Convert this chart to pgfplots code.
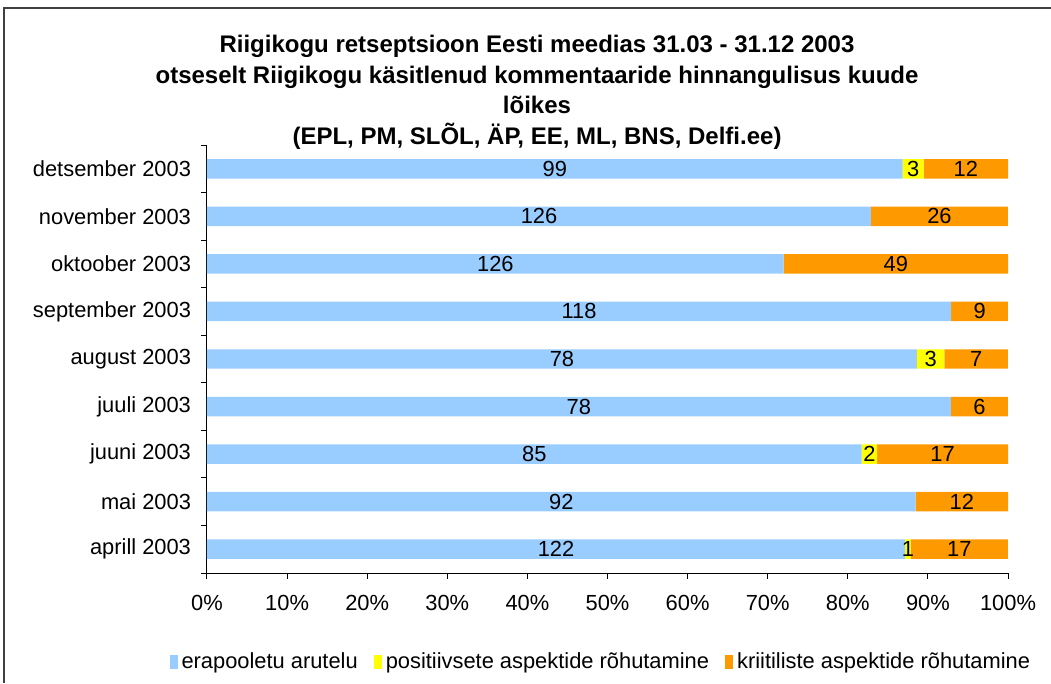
\documentclass[border=0pt]{standalone}
\usepackage{fontspec}
\setmainfont{Liberation Sans}
\usepackage{pgfplots}
\usepackage{pgfplotstable}
\pgfplotsset{compat=1.18}

\definecolor{neutral}{HTML}{99CCFF}
\definecolor{positive}{HTML}{FFFF00}
\definecolor{critical}{HTML}{FF9900}

% counts per month: a = erapooletu, b = positiivne, c = kriitiline
\pgfplotstableread{
idx a   b c
0   122 1 17
1   92  0 12
2   85  2 17
3   78  0 6
4   78  3 7
5   118 0 9
6   126 0 49
7   126 0 26
8   99  3 12
}\months

\pgfplotsset{
  panel/.style={
    at={(207*\px,-573*\px)}, anchor=south west,
    scale only axis, width=600.75pt, height=321pt,
    xmin=0, xmax=100, ymin=-0.5, ymax=8.5,
    /pgf/number format/assume math mode=true,
  },
}

\begin{document}
\begin{tikzpicture}
\def\px{0.75pt}
\path[use as bounding box] (0,0) rectangle (1051*\px,-683*\px);
\draw[black!75, line width=1.5*\px] (4*\px,-683*\px) -- (4*\px,-8*\px) -- (1051*\px,-8*\px);

\begin{scope}[every node/.style={anchor=base, font=\fontsize{18}{22}\selectfont\bfseries}]
\node at (537*\px,-52*\px) {Riigikogu retseptsioon Eesti meedias 31.03 - 31.12 2003};
\node at (537*\px,-83*\px) {otseselt Riigikogu käsitlenud kommentaaride hinnangulisus  kuude};
\node at (537*\px,-113*\px) {lõikes};
\node at (537*\px,-144*\px) {(EPL, PM, SLÕL, ÄP, EE, ML, BNS, Delfi.ee)};
\end{scope}

% bars, as shares of the month's total
\begin{axis}[
    panel,
    xbar stacked, bar width=14.6pt,
    axis x line*=bottom, axis y line*=left,
    axis line style={black, line width=0.75pt},
    every tick/.style={black, line width=0.75pt},
    tick align=outside, major tick length=4.5pt,
    xtick={0,10,...,100},
    xticklabel={\pgfmathprintnumber{\tick}\%},
    ytick={-0.5,0.5,...,8.5},
    y tick label as interval,
    yticklabels={aprill 2003, mai 2003, juuni 2003, juuli 2003, august 2003,
                 september 2003, oktoober 2003, november 2003, detsember 2003},
    tick label style={font=\fontsize{16.4}{19}\selectfont},
    xticklabel style={yshift=-9pt},
    yticklabel style={xshift=-4pt},
    legend columns=3,
    legend style={draw=none, fill=none, at={(0.492,-0.208)}, anchor=center,
                  font=\fontsize{16.4}{19}\selectfont,
                  /tikz/every odd column/.append style={column sep=1pt},
                  /tikz/every even column/.append style={column sep=10pt}},
    legend image code/.code={\fill[#1] (0pt,-5pt) rectangle (6pt,5pt);},
  ]
\addplot[fill=neutral, draw=none]
  table[x expr={\thisrow{a}/(\thisrow{a}+\thisrow{b}+\thisrow{c})*100}, y=idx]{\months};
\addlegendentry{erapooletu arutelu}
\addplot[fill=positive, draw=none]
  table[x expr={\thisrow{b}/(\thisrow{a}+\thisrow{b}+\thisrow{c})*100}, y=idx]{\months};
\addlegendentry{positiivsete aspektide rõhutamine}
\addplot[fill=critical, draw=none]
  table[x expr={\thisrow{c}/(\thisrow{a}+\thisrow{b}+\thisrow{c})*100}, y=idx]{\months};
\addlegendentry{kriitiliste aspektide rõhutamine}
\end{axis}

% value labels at the middle of each segment
\begin{axis}[
    panel, hide axis, clip=false,
    every node near coord/.style={anchor=center, black, font=\fontsize{16.4}{19}\selectfont},
    nodes near coords={\pgfmathfloatifflags{\pgfplotspointmeta}{0}{}{\pgfmathprintnumber{\pgfplotspointmeta}}},
  ]
\addplot[only marks, mark=none, point meta=explicit]
  table[x expr={\thisrow{a}/2/(\thisrow{a}+\thisrow{b}+\thisrow{c})*100}, y=idx, meta=a]{\months};
\addplot[only marks, mark=none, point meta=explicit]
  table[x expr={(\thisrow{a}+\thisrow{b}/2)/(\thisrow{a}+\thisrow{b}+\thisrow{c})*100}, y=idx, meta=b]{\months};
\addplot[only marks, mark=none, point meta=explicit]
  table[x expr={(\thisrow{a}+\thisrow{b}+\thisrow{c}/2)/(\thisrow{a}+\thisrow{b}+\thisrow{c})*100}, y=idx, meta=c]{\months};
\end{axis}
\end{tikzpicture}
\end{document}
